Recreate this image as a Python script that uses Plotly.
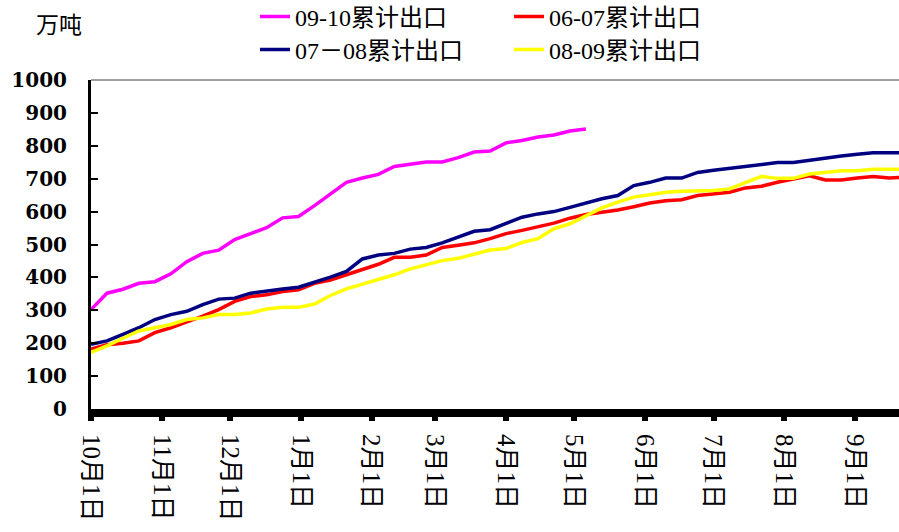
import datetime as dt
import plotly.graph_objects as go

# ---------------- data ----------------
start_date = dt.date(2009, 10, 1)

s0910_name = "09-10累计出口"
s0607_name = "06-07累计出口"
s0708_name = "07－08累计出口"
s0809_name = "08-09累计出口"

s0910 = [302, 352, 364, 382, 387, 411, 448, 473, 483, 515, 533, 551, 581, 585, 618, 654,
         689, 702, 713, 737, 744, 751, 751, 764, 781, 784, 809, 816, 827, 833, 845, 851]

s0607 = [182, 195, 200, 207, 232, 247, 265, 282, 302, 327, 342, 347, 357, 362, 382, 392,
         408, 423, 440, 461, 461, 468, 491, 498, 505, 518, 533, 543, 553, 565, 580,
         591, 598, 605, 615, 626, 633, 636, 649, 654, 659, 672, 677, 689, 699, 709, 696,
         696, 702, 707, 702, 705]

s0708 = [197, 207, 227, 247, 272, 287, 297, 317, 334, 337, 352, 359, 365, 370, 385, 401,
         418, 456, 468, 473, 486, 491, 505, 523, 540, 545, 565, 583, 593, 600, 613,
         626, 639, 649, 679, 689, 702, 702, 719, 726, 732, 739, 744, 749, 749, 756, 762,
         769, 774, 779, 779, 779]

s0809 = [172, 192, 215, 237, 247, 257, 272, 277, 287, 287, 292, 304, 309, 309, 319, 345,
         365, 380, 395, 408, 426, 438, 451, 458, 470, 483, 488, 506, 518, 548, 563,
         588, 611, 629, 644, 651, 659, 662, 662, 664, 669, 689, 707, 701, 701, 714, 719,
         724, 724, 729, 729, 729]

tick_dates = ["2009-10-01", "2009-11-01", "2009-12-01", "2010-01-01", "2010-02-01",
              "2010-03-01", "2010-04-01", "2010-05-01", "2010-06-01", "2010-07-01",
              "2010-08-01", "2010-09-01"]
tick_labels = ["10月1日", "11月1日", "12月1日", "1月1日", "2月1日", "3月1日",
               "4月1日", "5月1日", "6月1日", "7月1日", "8月1日", "9月1日"]

y_ticks = [0, 100, 200, 300, 400, 500, 600, 700, 800, 900, 1000]
unit_label = "万吨"


def weekly(values):
    return [start_date + dt.timedelta(days=7 * i) for i in range(len(values))]


# ---------------- figure ----------------
W, H = 899, 532
ML, MR, MT, MB = 91, 0, 80, 123
PW, PH = W - ML - MR, H - MT - MB

SERIF = "'Liberation Serif', 'Noto Sans CJK SC', serif"

fig = go.Figure()
fig.add_trace(go.Scatter(x=weekly(s0910), y=s0910, name=s0910_name, mode="lines",
                         line=dict(color="#FF00FF", width=3.5), legend="legend"))
fig.add_trace(go.Scatter(x=weekly(s0607), y=s0607, name=s0607_name, mode="lines",
                         line=dict(color="#FF0000", width=3.5), legend="legend"))
fig.add_trace(go.Scatter(x=weekly(s0708), y=s0708, name=s0708_name, mode="lines",
                         line=dict(color="#000080", width=3.5), legend="legend2"))
fig.add_trace(go.Scatter(x=weekly(s0809), y=s0809, name=s0809_name, mode="lines",
                         line=dict(color="#FFFF00", width=3.5), legend="legend2"))

legend_common = dict(
    orientation="h", xref="container", yref="container",
    xanchor="left", yanchor="middle",
    font=dict(family=SERIF, size=24, color="black"),
    entrywidth=209, entrywidthmode="pixels",
    bgcolor="rgba(0,0,0,0)", borderwidth=0, traceorder="normal",
)

fig.update_layout(
    width=W, height=H,
    margin=dict(l=ML, r=MR, t=MT, b=MB, autoexpand=False),
    paper_bgcolor="white", plot_bgcolor="white",
    showlegend=True,
    legend=dict(x=255 / W, y=1 - 17 / H, **legend_common),
    legend2=dict(x=255 / W, y=1 - 50 / H, **legend_common),
    xaxis=dict(
        type="date", automargin=False,
        range=["2009-10-01", "2010-09-20 07:00"],
        tickmode="array", tickvals=tick_dates, ticktext=tick_labels,
        tickangle=90,
        tickfont=dict(family=SERIF, size=25, color="black"),
        showgrid=False, zeroline=False,
        showline=True, linecolor="black", linewidth=8,
        ticks="outside", ticklen=4, tickwidth=6, tickcolor="black",
        ticklabelstandoff=8,
    ),
    yaxis=dict(
        automargin=False,
        range=[0, 1000],
        tickmode="array", tickvals=y_ticks,
        tickfont=dict(family="DejaVu Serif, serif", size=20, color="black", weight="bold"),
        showgrid=False, zeroline=False,
        showline=True, linecolor="black", linewidth=3,
        ticks="inside", ticklen=7, tickwidth=2, tickcolor="black",
        ticklabelstandoff=17,
    ),
    shapes=[dict(type="line", xref="paper", yref="paper", x0=0, x1=1, y0=1, y1=1,
                 line=dict(color="#444444", width=1))],
    annotations=[dict(text=unit_label, xref="paper", yref="paper",
                      x=(59 - ML) / PW, y=1 + (MT - 23) / PH,
                      xanchor="center", yanchor="middle", showarrow=False,
                      font=dict(family="Noto Sans CJK SC", size=23, color="black"))],
)

fig.write_html("out.html",
               config={"displayModeBar": False},
               post_script="document.body.style.margin='0';document.body.style.overflow='hidden';")
